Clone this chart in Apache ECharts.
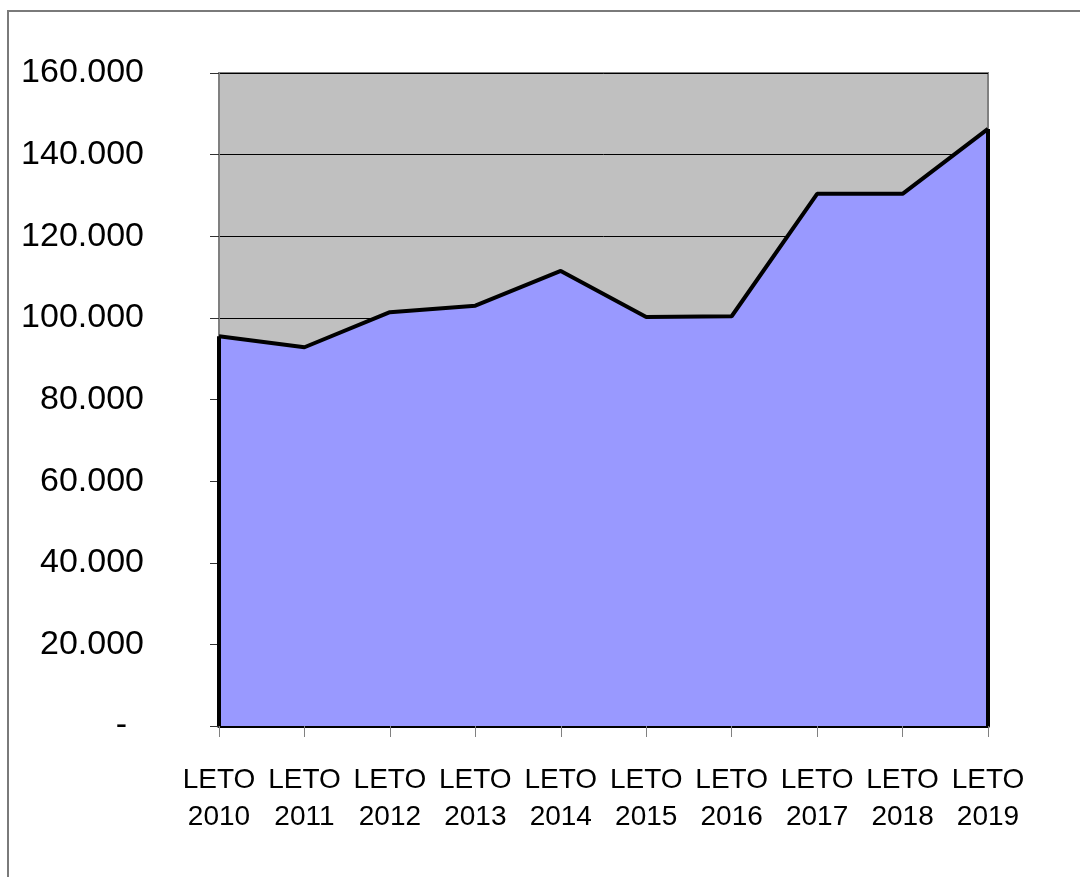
<!DOCTYPE html>
<html>
<head>
<meta charset="utf-8">
<script src="https://cdn.jsdelivr.net/npm/echarts@6/dist/echarts.min.js"></script>
<style>
  html, body { margin: 0; padding: 0; background: #fff; }
  #main { width: 1080px; height: 877px; }
</style>
</head>
<body>
<div id="main"></div>
<script>
// podatki
var leta = ['LETO\n2010', 'LETO\n2011', 'LETO\n2012', 'LETO\n2013', 'LETO\n2014',
            'LETO\n2015', 'LETO\n2016', 'LETO\n2017', 'LETO\n2018', 'LETO\n2019'];
var vrednosti = [95500, 92800, 101400, 103000, 111500, 100200, 100400, 130400, 130400, 146300];
var yMin = 0, yMax = 160000, yKorak = 20000;

var pisava = '"Liberation Sans", Arial, sans-serif';

function oblikuj(v) {
    if (v === 0) return '{n|-}';
    var s = String(Math.round(v));
    return s.replace(/\B(?=(\d{3})+(?!\d))/g, '.');
}

var myChart = echarts.init(document.getElementById('main'));

var zadnji = vrednosti.length - 1;

var option = {
    animation: false,
    backgroundColor: '#ffffff',
    graphic: [{
        type: 'rect',
        shape: { x: 8, y: 11, width: 1200, height: 1000 },
        style: { fill: 'none', stroke: '#7a7a7a', lineWidth: 2 },
        silent: true
    }],
    grid: {
        left: 219, right: 92, top: 73, bottom: 151,
        outerBoundsMode: 'none',
        containLabel: false,
        show: true,
        backgroundColor: '#C0C0C0',
        borderColor: '#808080',
        borderWidth: 2
    },
    xAxis: {
        type: 'category',
        data: leta,
        boundaryGap: false,
        axisLine: { lineStyle: { color: '#000', width: 4 } },
        axisTick: { show: true, length: 11, lineStyle: { color: '#808080', width: 1 } },
        axisLabel: {
            color: '#000',
            fontFamily: pisava,
            fontSize: 28,
            lineHeight: 37,
            margin: 36,
            interval: 0
        }
    },
    yAxis: {
        type: 'value',
        min: yMin,
        max: yMax,
        interval: yKorak,
        axisLine: { show: true, lineStyle: { color: '#808080', width: 2 } },
        axisTick: { show: true, length: 9, lineStyle: { color: '#333', width: 1 } },
        splitLine: { show: true, lineStyle: { color: '#000', width: 1 } },
        axisLabel: {
            color: '#000',
            fontFamily: pisava,
            fontSize: 34,
            margin: 75,
            formatter: oblikuj,
            rich: {
                n: { fontFamily: pisava, fontSize: 34, color: '#000', padding: [0, 17, 0, 0] }
            }
        }
    },
    series: [{
        type: 'line',
        data: vrednosti,
        symbol: 'none',
        lineStyle: { color: '#000', width: 4 },
        areaStyle: { color: '#9999FF', opacity: 1 },
        markLine: {
            silent: true,
            symbol: 'none',
            label: { show: false },
            lineStyle: { color: '#000', width: 4, type: 'solid' },
            data: [
                [{ coord: [0, 0] }, { coord: [0, vrednosti[0]] }],
                [{ coord: [zadnji, 0] }, { coord: [zadnji, vrednosti[zadnji]] }]
            ]
        }
    }]
};

myChart.setOption(option);
</script>
</body>
</html>
